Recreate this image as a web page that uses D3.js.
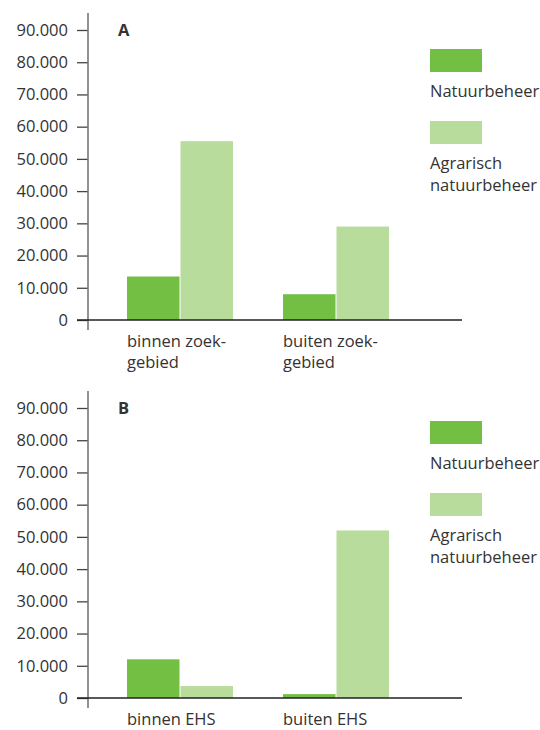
<!DOCTYPE html>
<html>
<head>
<meta charset="utf-8">
<script src="https://cdn.jsdelivr.net/npm/d3@7"></script>
<style>
  body { margin: 0; background: #fff; }
  text { font-family: "Open Sans", sans-serif; fill: #333; }
</style>
</head>
<body>
<div id="caja"></div>
<script>
// series and values for both panels
var series = ["Natuurbeheer", "Agrarisch natuurbeheer"];
var catsA = ["binnen zoekgebied", "buiten zoekgebied"];
var labelsA = [["binnen zoek-", "gebied"], ["buiten zoek-", "gebied"]];
var natuurA = [13500, 8000];
var agrarA = [55500, 29000];

var catsB = ["binnen EHS", "buiten EHS"];
var labelsB = [["binnen EHS"], ["buiten EHS"]];
var natuurB = [12000, 1200];
var agrarB = [3700, 52000];

var ticks = [0, 10000, 20000, 30000, 40000, 50000, 60000, 70000, 80000, 90000];
var legendLines = [["Natuurbeheer"], ["Agrarisch", "natuurbeheer"]];

var w = 540, h = 730;
var fs = "16.5px";
var kleuren = d3.scaleOrdinal().domain(series).range(["#72bf44", "#b8dc9c"]);
var nl = d3.formatLocale({decimal: ",", thousands: ".", grouping: [3], currency: ["€", ""]});
var fmt = nl.format(",");

var svg = d3.select("#caja").append("svg")
  .attr("width", w)
  .attr("height", h);

// one panel: dy shifts the whole thing down
function panel(dy, letter, cats, labels, natuur, agrar, legendDy) {
  var g = svg.append("g").attr("transform", "translate(0," + dy + ")");

  var y = d3.scaleLinear().domain([0, 90000]).range([320, 30]);
  var x0 = d3.scaleBand().domain(cats).range([102.5, 414.5]);
  var x1 = d3.scaleBand().domain(series).range([-53.5, 53.5]);

  var datos = cats.map(function(c, i) {
    return {cat: c, vals: [
      {s: series[0], v: natuur[i]},
      {s: series[1], v: agrar[i]}
    ]};
  });

  // bars
  g.selectAll("g.grp")
    .data(datos)
    .enter().append("g")
      .attr("class", "grp")
      .attr("transform", function(d) { return "translate(" + (x0(d.cat) + x0.bandwidth() / 2) + ",0)"; })
    .selectAll("rect")
    .data(function(d) { return d.vals; })
    .enter().append("rect")
      .attr("x", function(d) { return x1(d.s); })
      .attr("width", x1.bandwidth() - 1)
      .attr("y", function(d) { return y(d.v); })
      .attr("height", function(d) { return y(0) - y(d.v); })
      .style("fill", function(d) { return kleuren(d.s); });

  // y axis
  var ax = g.append("g")
    .attr("transform", "translate(88,0)")
    .call(d3.axisLeft(y).tickValues(ticks).tickFormat(fmt).tickSize(11).tickPadding(9));
  ax.select(".domain").remove();
  ax.selectAll(".tick line").attr("stroke", "#444").attr("stroke-width", 1.3);
  ax.selectAll(".tick text")
    .style("font-family", "'Open Sans', sans-serif")
    .style("font-size", fs)
    .attr("fill", "#333");

  g.append("line")
    .attr("x1", 88).attr("x2", 88)
    .attr("y1", 13).attr("y2", 330)
    .attr("stroke", "#777").attr("stroke-width", 1.6);

  // baseline
  g.append("line")
    .attr("x1", 77).attr("x2", 462)
    .attr("y1", y(0)).attr("y2", y(0))
    .attr("stroke", "#222").attr("stroke-width", 1.4);

  // category labels
  cats.forEach(function(c, i) {
    var t = g.append("text")
      .attr("x", x0(c) + x0.bandwidth() / 2 - 53.5)
      .attr("y", 347)
      .style("font-size", fs);
    labels[i].forEach(function(l, j) {
      t.append("tspan")
        .attr("x", x0(c) + x0.bandwidth() / 2 - 53.5)
        .attr("dy", j === 0 ? 0 : 21)
        .text(l);
    });
  });

  // panel letter
  g.append("text")
    .attr("x", 118).attr("y", 36)
    .style("font-size", "16.5px")
    .style("font-weight", "bold")
    .text(letter);

  // legend
  var lg = g.append("g").attr("transform", "translate(0," + legendDy + ")");
  series.forEach(function(s, i) {
    var top = 49 + i * 72;
    lg.append("rect")
      .attr("x", 430).attr("y", top)
      .attr("width", 52).attr("height", 23)
      .style("fill", kleuren(s));
    var t = lg.append("text").attr("x", 430).attr("y", top + 48).style("font-size", fs);
    legendLines[i].forEach(function(l, j) {
      t.append("tspan").attr("x", 430).attr("dy", j === 0 ? 0 : 22).text(l);
    });
  });
}

panel(0, "A", catsA, labelsA, natuurA, agrarA, 0);
panel(378, "B", catsB, labelsB, natuurB, agrarB, -6);
</script>
</body>
</html>
